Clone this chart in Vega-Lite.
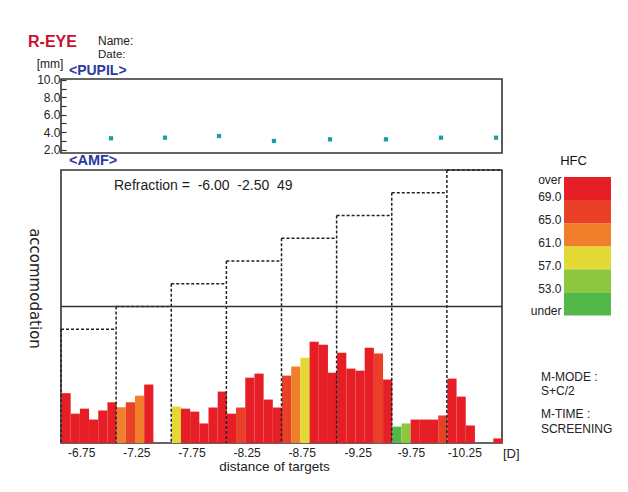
{
  "$schema": "https://vega.github.io/schema/vega-lite/v6.json",
  "padding": {"left": 25, "top": 33, "right": 5, "bottom": 5},
  "spacing": -5,
  "config": {
    "font": "Liberation Sans",
    "view": {"stroke": "#333333", "strokeWidth": 1.6},
    "axis": {"grid": false}
  },
  "datasets": {
    "one": [{}],
    "pupil": [
      {"t": 5.44, "pupil": 3.29}, {"t": 11.32, "pupil": 3.36}, {"t": 17.2, "pupil": 3.55}, {"t": 23.18, "pupil": 2.98},
      {"t": 29.28, "pupil": 3.17}, {"t": 35.37, "pupil": 3.17}, {"t": 41.36, "pupil": 3.36}, {"t": 47.35, "pupil": 3.36}
    ],
    "amf": [
      {"t": 0, "amf": 2.19, "hfc": 71}, {"t": 1, "amf": 1.29, "hfc": 71}, {"t": 2, "amf": 1.51, "hfc": 71},
      {"t": 3, "amf": 1.03, "hfc": 71}, {"t": 4, "amf": 1.43, "hfc": 71}, {"t": 5, "amf": 1.79, "hfc": 71},
      {"t": 6, "amf": 1.57, "hfc": 63}, {"t": 7, "amf": 1.79, "hfc": 67}, {"t": 8, "amf": 2.08, "hfc": 63},
      {"t": 9, "amf": 2.57, "hfc": 71},
      {"t": 12, "amf": 1.6, "hfc": 59}, {"t": 13, "amf": 1.51, "hfc": 71}, {"t": 14, "amf": 1.38, "hfc": 71},
      {"t": 15, "amf": 0.86, "hfc": 71}, {"t": 16, "amf": 1.56, "hfc": 71}, {"t": 17, "amf": 2.26, "hfc": 71},
      {"t": 18, "amf": 1.29, "hfc": 71}, {"t": 19, "amf": 1.56, "hfc": 67}, {"t": 20, "amf": 2.87, "hfc": 71},
      {"t": 21, "amf": 3.05, "hfc": 71}, {"t": 22, "amf": 1.91, "hfc": 71}, {"t": 23, "amf": 1.56, "hfc": 71},
      {"t": 24, "amf": 2.96, "hfc": 67}, {"t": 25, "amf": 3.36, "hfc": 63}, {"t": 26, "amf": 3.75, "hfc": 59},
      {"t": 27, "amf": 4.45, "hfc": 71}, {"t": 28, "amf": 4.32, "hfc": 71}, {"t": 29, "amf": 3.09, "hfc": 71},
      {"t": 30, "amf": 3.97, "hfc": 71}, {"t": 31, "amf": 3.27, "hfc": 71}, {"t": 32, "amf": 3.18, "hfc": 71},
      {"t": 33, "amf": 4.19, "hfc": 71}, {"t": 34, "amf": 3.93, "hfc": 67}, {"t": 35, "amf": 2.79, "hfc": 71},
      {"t": 36, "amf": 0.72, "hfc": 51}, {"t": 37, "amf": 0.86, "hfc": 55}, {"t": 38, "amf": 1.03, "hfc": 71},
      {"t": 39, "amf": 1.03, "hfc": 71}, {"t": 40, "amf": 1.03, "hfc": 71}, {"t": 41, "amf": 1.21, "hfc": 67},
      {"t": 42, "amf": 2.83, "hfc": 71}, {"t": 43, "amf": 2.04, "hfc": 71}, {"t": 44, "amf": 0.77, "hfc": 71},
      {"t": 47, "amf": 0.2, "hfc": 71}
    ],
    "targets": [
      {"target": -6.75, "t0": 0, "t1": 6, "level": 5},
      {"target": -7.25, "t0": 6, "t1": 12, "level": 6},
      {"target": -7.75, "t0": 12, "t1": 18, "level": 7},
      {"target": -8.25, "t0": 18, "t1": 24, "level": 8},
      {"target": -8.75, "t0": 24, "t1": 30, "level": 9},
      {"target": -9.25, "t0": 30, "t1": 36, "level": 10},
      {"target": -9.75, "t0": 36, "t1": 42, "level": 11},
      {"target": -10.25, "t0": 42, "t1": 48, "level": 12}
    ],
    "bands": [
      {"lo": 49, "hi": 53, "hfc": 51}, {"lo": 53, "hi": 57, "hfc": 55}, {"lo": 57, "hi": 61, "hfc": 59},
      {"lo": 61, "hi": 65, "hfc": 63}, {"lo": 65, "hi": 69, "hfc": 67}, {"lo": 69, "hi": 73, "hfc": 71}
    ]
  },
  "vconcat": [
    {
      "width": 441,
      "height": 74,
      "layer": [
        {
          "data": {"name": "pupil"},
          "mark": {"type": "square", "size": 18, "color": "#1b9ea6", "opacity": 1},
          "encoding": {
            "x": {"field": "t", "type": "quantitative", "scale": {"domain": [0, 48], "nice": false}, "axis": null},
            "y": {
              "field": "pupil", "type": "quantitative",
              "scale": {"domain": [1.6, 10.1], "nice": false, "zero": false},
              "axis": {
                "orient": "left", "values": [2, 3, 4, 5, 6, 7, 8, 9, 10], "tickCount": 9,
                "labelExpr": "datum.value % 2 == 0 ? format(datum.value, '.1f') : ''",
                "labelOverlap": false, "labelFlush": false, "domain": false, "tickSize": -5, "tickColor": "#333333", "tickWidth": 1.2,
                "labelPadding": 6, "labelFontSize": 12, "labelColor": "#222222", "title": null
              }
            }
          }
        },
        {
          "data": {"name": "one"},
          "mark": {"type": "text", "text": "R-EYE", "align": "left", "baseline": "middle", "color": "#c8102e", "fontWeight": "bold", "fontSize": 16},
          "encoding": {"x": {"datum": -3.59}, "y": {"datum": 14.35}}
        },
        {
          "data": {"name": "one"},
          "mark": {"type": "text", "text": "Name:", "align": "left", "baseline": "middle", "color": "#222222", "fontSize": 12},
          "encoding": {"x": {"datum": 4.03}, "y": {"datum": 14.5}}
        },
        {
          "data": {"name": "one"},
          "mark": {"type": "text", "text": "Date:", "align": "left", "baseline": "middle", "color": "#222222", "fontSize": 11.5},
          "encoding": {"x": {"datum": 4.03}, "y": {"datum": 12.85}}
        },
        {
          "data": {"name": "one"},
          "mark": {"type": "text", "text": "[mm]", "align": "center", "baseline": "middle", "color": "#222222", "fontSize": 12},
          "encoding": {"x": {"datum": -1.2}, "y": {"datum": 11.82}}
        },
        {
          "data": {"name": "one"},
          "mark": {"type": "text", "text": "<PUPIL>", "align": "left", "baseline": "middle", "color": "#2a3a9e", "fontWeight": "bold", "fontSize": 14},
          "encoding": {"x": {"datum": 0.87}, "y": {"datum": 11.05}}
        }
      ]
    },
    {
      "width": 441,
      "height": 273,
      "resolve": {"scale": {"y": "independent"}},
      "layer": [
        {
          "layer": [
            {
              "data": {"name": "amf"},
              "mark": {"type": "bar", "binSpacing": 0},
              "encoding": {
                "x": {
                  "field": "t", "type": "quantitative", "bin": {"binned": true, "step": 1},
                  "scale": {"domain": [0, 48], "nice": false},
                  "axis": {
                    "orient": "bottom", "values": [2.2, 8.2, 14.2, 20.2, 26.2, 32.3, 38.1, 43.9], "tickCount": 8,
                    "labelExpr": "'-' + format(6.75 + 0.5 * floor(datum.value / 6), '.2f')",
                    "domain": false, "ticks": false, "labelFlush": false, "labelOverlap": false, "labelPadding": 4,
                    "labelFontSize": 12, "labelColor": "#222222",
                    "title": "distance of targets", "titleFontSize": 13.5, "titleFontWeight": "normal",
                    "titleColor": "#222222", "titlePadding": 1, "titleX": 213, "titleAlign": "center"
                  }
                },
                "y": {
                  "field": "amf", "type": "quantitative", "scale": {"domain": [0, 12], "nice": false},
                  "axis": {
                    "orient": "left", "labels": false, "ticks": false, "domain": false,
                    "title": "accommodation", "titleAngle": 90, "titleFont": "DejaVu Sans", "titleFontSize": 15, "titleFontWeight": "normal",
                    "titleColor": "#222222", "titleX": -27, "titleY": 118, "titleAlign": "center", "titleBaseline": "middle"
                  }
                },
                "color": {
                  "field": "hfc", "type": "quantitative",
                  "scale": {"type": "threshold", "domain": [53, 57, 61, 65, 69],
                            "range": ["#52b848", "#8dc63f", "#e4d934", "#f07e2b", "#ea4027", "#e61e25"]},
                  "legend": null
                }
              }
            },
            {
              "data": {"name": "targets"},
              "mark": {"type": "rule", "color": "#222222", "strokeWidth": 1.5, "strokeDash": [3, 2]},
              "encoding": {
                "x": {"field": "t0", "type": "quantitative"},
                "x2": {"field": "t1"},
                "y": {"field": "level", "type": "quantitative"}
              }
            },
            {
              "data": {"name": "targets"},
              "mark": {"type": "rule", "color": "#222222", "strokeWidth": 1.5, "strokeDash": [3, 2]},
              "encoding": {
                "x": {"field": "t0", "type": "quantitative"},
                "y": {"field": "level", "type": "quantitative"},
                "y2": {"datum": 0}
              }
            },
            {
              "data": {"name": "one"},
              "mark": {"type": "rule", "color": "#333333", "strokeWidth": 1.6},
              "encoding": {"y": {"datum": 6}}
            },
            {
              "data": {"name": "one"},
              "mark": {"type": "text", "text": "Refraction = \u00a0-6.00\u00a0\u00a0-2.50\u00a0\u00a049", "align": "left", "baseline": "middle", "color": "#222222", "fontSize": 14},
              "encoding": {"x": {"datum": 5.77}, "y": {"datum": 11.3}}
            },
            {
              "data": {"name": "one"},
              "mark": {"type": "text", "text": "<AMF>", "align": "left", "baseline": "middle", "color": "#2a3a9e", "fontWeight": "bold", "fontSize": 14.5},
              "encoding": {"x": {"datum": 0.87}, "y": {"datum": 12.4}}
            },
            {
              "data": {"name": "one"},
              "mark": {"type": "text", "text": "[D]", "align": "center", "baseline": "middle", "color": "#222222", "fontSize": 13},
              "encoding": {"x": {"datum": 49.0}, "y": {"datum": -0.5}}
            },
            {
              "data": {"name": "one"},
              "mark": {"type": "text", "text": "M-MODE :", "align": "left", "baseline": "middle", "color": "#222222", "fontSize": 12},
              "encoding": {"x": {"datum": 52.24}, "y": {"datum": 2.9}}
            },
            {
              "data": {"name": "one"},
              "mark": {"type": "text", "text": "S+C/2", "align": "left", "baseline": "middle", "color": "#222222", "fontSize": 12},
              "encoding": {"x": {"datum": 52.24}, "y": {"datum": 2.28}}
            },
            {
              "data": {"name": "one"},
              "mark": {"type": "text", "text": "M-TIME :", "align": "left", "baseline": "middle", "color": "#222222", "fontSize": 12},
              "encoding": {"x": {"datum": 52.24}, "y": {"datum": 1.27}}
            },
            {
              "data": {"name": "one"},
              "mark": {"type": "text", "text": "SCREENING", "align": "left", "baseline": "middle", "color": "#222222", "fontSize": 12},
              "encoding": {"x": {"datum": 52.24}, "y": {"datum": 0.63}}
            }
          ]
        },
        {
          "data": {"name": "bands"},
          "mark": {"type": "rect"},
          "encoding": {
            "x": {"datum": 54.75},
            "x2": {"datum": 59.86},
            "y": {
              "field": "lo", "type": "quantitative",
              "scale": {"domain": [26.89, 74.21], "nice": false, "zero": false},
              "axis": {
                "orient": "right", "offset": 62, "values": [49.17, 53, 57, 61, 65, 69, 71.8], "tickCount": 7,
                "labelExpr": "datum.value < 50 ? 'under' : datum.value > 70 ? 'over' : format(datum.value, '.1f')",
                "labelAlign": "right", "labelBaseline": "alphabetic", "labelPadding": -3, "labelFlush": false,
                "labelOverlap": false, "ticks": false, "domain": false, "labelFontSize": 12, "labelColor": "#222222",
                "title": "HFC", "titleAngle": 0, "titleX": 9, "titleY": -10, "titleAlign": "center",
                "titleBaseline": "middle", "titleFontSize": 13, "titleFontWeight": "normal", "titleColor": "#111111"
              }
            },
            "y2": {"field": "hi"},
            "color": {
              "field": "hfc", "type": "quantitative",
              "scale": {"type": "threshold", "domain": [53, 57, 61, 65, 69],
                        "range": ["#52b848", "#8dc63f", "#e4d934", "#f07e2b", "#ea4027", "#e61e25"]},
              "legend": null
            }
          }
        }
      ]
    }
  ]
}
